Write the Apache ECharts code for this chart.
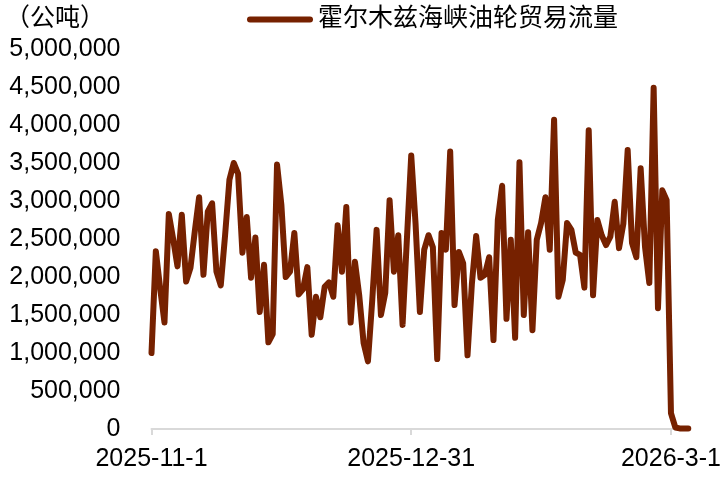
<!DOCTYPE html>
<html>
<head>
<meta charset="utf-8">
<script src="https://cdn.jsdelivr.net/npm/echarts@6/dist/echarts.min.js"></script>
<style>
  html, body { margin: 0; padding: 0; background: #fff; }
  #main { width: 724px; height: 477px; }
</style>
</head>
<body>
<div id="main"></div>
<script>
// 日期：2025-11-1 起，逐日
var startDate = [2025, 11, 1];
var tickDays = [0, 60, 120];
var seriesName = '霍尔木兹海峡油轮贸易流量';
var unitLabel = '（公吨）';

// 霍尔木兹海峡油轮贸易流量（公吨），读图估计
var flow = [
    1000000, 2340000, 1850000, 1400000, 2830000, 2500000, 2140000, 2820000, 1940000, 2120000,
    2600000, 3050000, 2030000, 2860000, 2970000, 2070000, 1890000, 2550000, 3280000, 3500000,
    3360000, 2320000, 2790000, 1990000, 2520000, 1540000, 2160000, 1140000, 1250000, 3480000,
    2950000, 2000000, 2070000, 2580000, 1770000, 1840000, 2130000, 1240000, 1740000, 1470000,
    1870000, 1930000, 1740000, 2680000, 2070000, 2920000, 1400000, 2200000, 1750000, 1130000,
    890000, 1700000, 2620000, 1500000, 1790000, 3010000, 2070000, 2550000, 1370000, 2500000,
    3600000, 2700000, 1540000, 2360000, 2550000, 2390000, 920000, 2580000, 2360000, 3650000,
    1630000, 2330000, 2180000, 970000, 1900000, 2540000, 1990000, 2030000, 2260000, 1170000,
    2750000, 3200000, 1450000, 2490000, 1200000, 3510000, 1500000, 2590000, 1300000, 2490000,
    2710000, 3050000, 2360000, 4070000, 1740000, 1960000, 2710000, 2620000, 2320000, 2290000,
    1860000, 3930000, 1760000, 2750000, 2550000, 2420000, 2530000, 2990000, 2380000, 2700000,
    3670000, 2450000, 2260000, 3430000, 2400000, 1920000, 4490000, 1590000, 3140000, 3010000,
    210000, 20000, 8000, 8000, 8000
];

var dates = [];
for (var i = 0; i < flow.length; i++) {
    var d = new Date(startDate[0], startDate[1] - 1, startDate[2] + i);
    dates.push(d.getFullYear() + '-' + (d.getMonth() + 1) + '-' + d.getDate());
}

var lineColor = '#762100';
var font = "'Liberation Sans', Arial, 'Noto Sans CJK SC', sans-serif";

var myChart = echarts.init(document.getElementById('main'));
var option = {
    animation: false,
    backgroundColor: '#fff',
    title: {
        text: unitLabel,
        left: 0,
        top: 2,
        textStyle: { fontSize: 25, fontWeight: 'normal', color: '#000', fontFamily: font }
    },
    legend: {
        data: [{
            name: seriesName,
            // 圆头粗线图例
            icon: 'path://M3,0 L63,0 A3,3 0 0 1 63,6 L3,6 A3,3 0 0 1 3,0 Z'
        }],
        left: 242,
        top: 2,
        itemWidth: 66,
        itemHeight: 6,
        textStyle: { fontSize: 25, color: '#000', fontFamily: font }
    },
    grid: {
        left: 151.5,
        right: 35,
        top: 49,
        bottom: 48
    },
    xAxis: {
        type: 'category',
        boundaryGap: false,
        data: dates,
        axisLine: { lineStyle: { color: '#d9d9d9', width: 2 } },
        axisTick: {
            length: 6,
            lineStyle: { color: '#d9d9d9', width: 2 },
            interval: function (idx) { return tickDays.indexOf(idx) >= 0; }
        },
        axisLabel: {
            interval: function (idx) { return tickDays.indexOf(idx) >= 0; },
            margin: 18,
            fontSize: 25,
            color: '#000',
            fontFamily: font
        },
        splitLine: { show: false }
    },
    yAxis: {
        type: 'value',
        min: 0,
        max: 5000000,
        interval: 500000,
        axisLine: { show: false },
        axisTick: { show: false },
        splitLine: { show: false },
        axisLabel: {
            margin: 31,
            fontSize: 25,
            color: '#000',
            fontFamily: font,
            formatter: function (v) { return v.toLocaleString('en-US'); }
        }
    },
    series: [{
        name: seriesName,
        type: 'line',
        data: flow,
        symbol: 'none',
        showSymbol: false,
        smooth: false,
        itemStyle: { color: lineColor },
        lineStyle: { color: lineColor, width: 6, join: 'round', cap: 'round' }
    }]
};
myChart.setOption(option);
</script>
</body>
</html>
